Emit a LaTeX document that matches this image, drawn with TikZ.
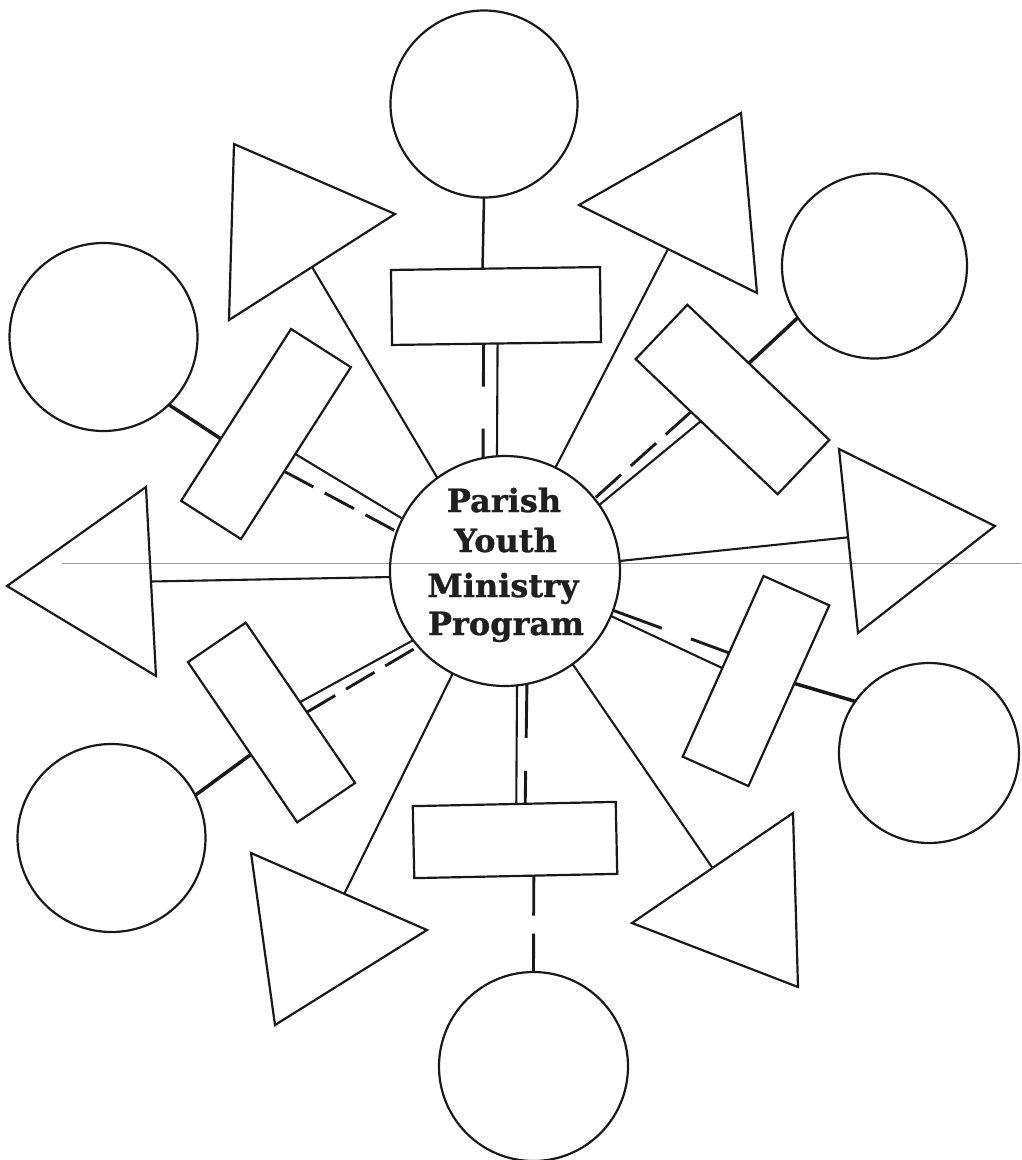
\documentclass[tikz,border=0pt]{standalone}
\usepackage{fontspec}
\newfontfamily\titlefont{DejaVu Serif}[BoldFeatures={FakeBold=0.9}]
\usetikzlibrary{calc}
\tikzset{
  shp/.style={draw=black!90, line width=2.2pt, inner sep=0pt, outer sep=0pt},
  circ/.style={shp, circle},
  box/.style={shp, rectangle},
  tri/.style={draw=black!90, line width=2.2pt, line join=miter},
  lnk/.style={draw=black!90, line width=2.1pt},
  heavy/.style={draw=black!90, line width=3.5pt},
  dsh/.style={draw=black!90, line width=2.9pt, dash pattern=#1},
  ttl/.style={inner sep=0pt, anchor=base, text=black!88,
    font=\titlefont\bfseries\fontsize{32}{38}\selectfont},
  scanline/.style={draw=black!38, line width=1.5pt}
}
\begin{document}
\begin{tikzpicture}[x=1pt,y=-1pt]
\fill[white] (0,0) rectangle (1021,1160);
\useasboundingbox (0,0) rectangle (1021,1160);

% faint horizontal scan line
\coordinate (S0) at (62,563.5);
\coordinate (S1) at (1021,563.5);
\draw[scanline] (S0) -- (S1);

% centre
\node[circ, minimum size=230pt] (Ctr) at (505,571) {};
\node[ttl] (t1) at (504,512) {Parish};
\node[ttl] (t2) at (505.5,552) {Youth};
\node[ttl] (t3) at (503,597) {Ministry};
\node[ttl] (t4) at (506,635) {Program};

% outer circles
\node[circ, minimum size=187pt] (C1) at (484,104) {};
\node[circ, minimum size=185pt] (C2) at (874.5,266) {};
\node[circ, minimum size=180pt] (C3) at (929,753) {};
\node[circ, minimum size=189pt] (C4) at (533.5,1066.5) {};
\node[circ, minimum size=188pt] (C5) at (111.5,838) {};
\node[circ, minimum size=188pt] (C6) at (103.5,337) {};

% rectangles
\node[box, minimum width=209pt, minimum height=75pt, rotate=0.8]   (R1) at (496,306) {};
\node[box, minimum width=196pt, minimum height=75pt, rotate=-43.6] (R2) at (732.5,399.5) {};
\node[box, minimum width=198pt, minimum height=72pt, rotate=65.9]  (R3) at (756,681) {};
\node[box, minimum width=203pt, minimum height=72pt, rotate=1.2]   (R4) at (515,840) {};
\node[box, minimum width=194pt, minimum height=70pt, rotate=-55.7] (R5) at (271.5,722.5) {};
\node[box, minimum width=204pt, minimum height=71pt, rotate=57.4]  (R6) at (266,434) {};

% triangles
\coordinate (T1a) at (741,113); \coordinate (T1b) at (579,205); \coordinate (T1c) at (757,293);
\coordinate (T2a) at (839,449); \coordinate (T2b) at (995,526); \coordinate (T2c) at (858,633);
\coordinate (T3a) at (793,813); \coordinate (T3b) at (632,923); \coordinate (T3c) at (798,987);
\coordinate (T4a) at (251,853); \coordinate (T4b) at (427,930); \coordinate (T4c) at (275,1025);
\coordinate (T5a) at (146,487); \coordinate (T5b) at (7,586);   \coordinate (T5c) at (156,676);
\coordinate (T6a) at (234,144); \coordinate (T6b) at (395,214); \coordinate (T6c) at (229,320);
\draw[tri] (T1a) -- (T1b) -- (T1c) -- cycle;
\draw[tri] (T2a) -- (T2b) -- (T2c) -- cycle;
\draw[tri] (T3a) -- (T3b) -- (T3c) -- cycle;
\draw[tri] (T4a) -- (T4b) -- (T4c) -- cycle;
\draw[tri] (T5a) -- (T5b) -- (T5c) -- cycle;
\draw[tri] (T6a) -- (T6b) -- (T6c) -- cycle;

% triangle links
\coordinate (T1m) at ($(T1b)!0.5!(T1c)$);
\coordinate (T2m) at ($(T2a)!0.48!(T2c)$);
\coordinate (T3m) at ($(T3a)!0.5!(T3b)$);
\coordinate (T4m) at ($(T4a)!0.53!(T4b)$);
\coordinate (T5m) at ($(T5a)!0.5!(T5c)$);
\coordinate (T6m) at ($(T6b)!0.5!(T6c)$);
\draw[lnk] (T1m) -- (Ctr.64);
\draw[lnk] (T2m) -- (Ctr.5.5);
\draw[lnk] (T3m) -- (Ctr.-54);
\draw[lnk] (T4m) -- (Ctr.243.5);
\draw[lnk] (T5m) -- (Ctr.183);
\draw[lnk] (T6m) -- (Ctr.126.4);

% attachment points on rectangles
\coordinate (R1o) at ($(R1.north west)!0.438!(R1.north east)$);
\coordinate (R1s) at ($(R1.south west)!0.505!(R1.south east)$);
\coordinate (R1d) at ($(R1.south west)!0.438!(R1.south east)$);
\coordinate (R2o) at ($(R2.north west)!0.433!(R2.north east)$);
\coordinate (R2s) at ($(R2.south west)!0.459!(R2.south east)$);
\coordinate (R2d) at ($(R2.south west)!0.39!(R2.south east)$);
\coordinate (R3o) at ($(R3.south west)!0.568!(R3.south east)$);
\coordinate (R3s) at ($(R3.north west)!0.49!(R3.north east)$);
\coordinate (R3d) at ($(R3.north west)!0.574!(R3.north east)$);
\coordinate (R4o) at ($(R4.south west)!0.589!(R4.south east)$);
\coordinate (R4s) at ($(R4.north west)!0.51!(R4.north east)$);
\coordinate (R4d) at ($(R4.north west)!0.554!(R4.north east)$);
\coordinate (R5o) at ($(R5.south west)!0.576!(R5.south east)$);
\coordinate (R5s) at ($(R5.north west)!0.496!(R5.north east)$);
\coordinate (R5d) at ($(R5.north west)!0.559!(R5.north east)$);
\coordinate (R6o) at ($(R6.north west)!0.361!(R6.north east)$);
\coordinate (R6s) at ($(R6.south west)!0.495!(R6.south east)$);
\coordinate (R6d) at ($(R6.south west)!0.394!(R6.south east)$);

% circle to rectangle links
\draw[lnk, line width=2.5pt] (R1o) -- (C1.270);
\draw[heavy] (R2o) -- (C2.214);
\draw[heavy] (R3o) -- (C3.145.6);
\draw[dsh={on 40pt off 18pt}] (R4o) -- (C4.90);
\draw[heavy] (R5o) -- (C5.27);
\draw[heavy] (R6o) -- (C6.-46.5);

% rectangle to centre: solid + dashed pairs
\draw[lnk] (R1s) -- (Ctr.94);
\draw[dsh={on 43pt off 42pt}] (R1d) -- (Ctr.101);
\draw[lnk] (R2s) -- (Ctr.35);
\draw[dsh={on 34pt off 13pt}] (R2d) -- (Ctr.39.5);
\draw[lnk] (R3s) -- (Ctr.-23.3);
\draw[dsh={on 52pt off 31pt}] (Ctr.-20.1) -- (R3d);
\draw[lnk] (R4s) -- (Ctr.-84);
\draw[dsh={on 54pt off 33pt}] (Ctr.-79.5) -- (R4d);
\draw[lnk] (R5s) -- (Ctr.217.4);
\draw[dsh={on 33pt off 12.5pt}] (R5d) -- (Ctr.221.5);
\draw[lnk] (R6s) -- (Ctr.153.6);
\draw[dsh={on 33pt off 13pt}] (R6d) -- (Ctr.160.5);
\end{tikzpicture}
\end{document}
